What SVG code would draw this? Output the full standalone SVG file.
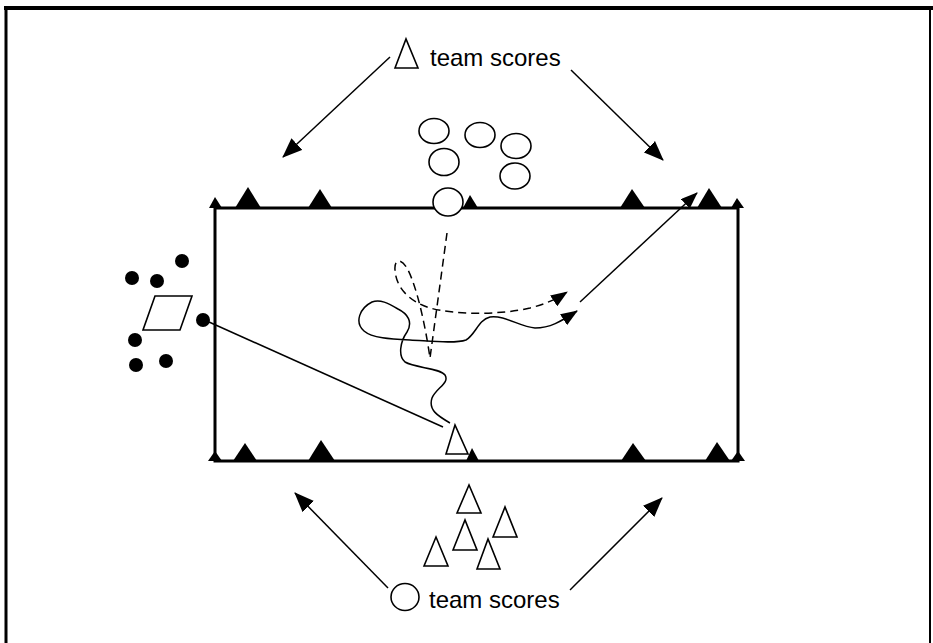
<svg xmlns="http://www.w3.org/2000/svg" width="933" height="643" viewBox="0 0 933 643">
<defs>
<style>
.frame{stroke:#000;fill:none}
.field{stroke:#000;stroke-width:3;fill:none}
.cone{fill:#000;stroke:none}
.open{fill:#fff;stroke:#000;stroke-width:1.6}
.dot{fill:#000}
.lbl{font-family:"Liberation Sans",Arial,sans-serif;font-size:24px;fill:#000}
.conn{stroke:#000;stroke-width:1.5;fill:none}
.dash{stroke-dasharray:8,5}
</style>
<marker id="ah" markerUnits="userSpaceOnUse" markerWidth="20" markerHeight="16" refX="19" refY="8" orient="auto">
<path d="M0,0 L20,8 L0,16 z" fill="#000"/>
</marker>
<marker id="ahs" markerUnits="userSpaceOnUse" markerWidth="17" markerHeight="13" refX="16" refY="6.5" orient="auto">
<path d="M0,0 L17,6.5 L0,13 z" fill="#000"/>
</marker>
</defs>
<rect width="933" height="643" fill="#fff"/>
<g id="frame">
<line class="frame" x1="4" y1="8" x2="933" y2="8" stroke-width="4"/>
<line class="frame" x1="6" y1="6" x2="6" y2="643" stroke-width="3"/>
<line class="frame" x1="930" y1="6" x2="930" y2="643" stroke-width="2"/>
</g>
<g id="field">
<rect class="field" x="215" y="208" width="523" height="253"/>
</g>
<g id="top-cones">
<polygon class="cone" points="209,208 215,197 222,208"/>
<polygon class="cone" points="235,208 248,187 261,208"/>
<polygon class="cone" points="308,208 320,189 332,208"/>
<polygon class="cone" points="463,208 470,195 478,208"/>
<polygon class="cone" points="620,208 632,189 645,208"/>
<polygon class="cone" points="697,208 709,188 722,208"/>
<polygon class="cone" points="731,208 737,198 744,208"/>
</g>
<g id="bottom-cones">
<polygon class="cone" points="208,461 215,451 222,461"/>
<polygon class="cone" points="233,461 245,443 257,461"/>
<polygon class="cone" points="308,461 321,440 335,461"/>
<polygon class="cone" points="466,461 472,448 479,461"/>
<polygon class="cone" points="621,461 633,443 646,461"/>
<polygon class="cone" points="705,461 717,442 730,461"/>
<polygon class="cone" points="731,461 738,451 745,461"/>
</g>
<g id="circle-team">
<ellipse class="open" cx="434" cy="131" rx="15" ry="12.5"/>
<ellipse class="open" cx="480" cy="135" rx="15" ry="12.5"/>
<ellipse class="open" cx="516" cy="146" rx="15" ry="12.5"/>
<ellipse class="open" cx="444" cy="162" rx="15" ry="13.5"/>
<ellipse class="open" cx="515" cy="176" rx="15" ry="13"/>
<ellipse class="open" cx="448" cy="202" rx="15" ry="14"/>
</g>
<g id="triangle-team">
<polygon class="open" points="457,513 469,485 481,513"/>
<polygon class="open" points="493,537 505,507 517,537"/>
<polygon class="open" points="453,550 465,520 477,550"/>
<polygon class="open" points="424,566 436,537 448,566"/>
<polygon class="open" points="477,569 488,539 500,569"/>
<polygon class="open" points="446,454 455,425 468,454"/>
</g>
<g id="dot-team">
<circle class="dot" cx="182" cy="261" r="7"/>
<circle class="dot" cx="132" cy="278" r="7"/>
<circle class="dot" cx="157" cy="281" r="7"/>
<circle class="dot" cx="203" cy="320" r="7"/>
<circle class="dot" cx="135" cy="340" r="7"/>
<circle class="dot" cx="136" cy="365" r="7"/>
<circle class="dot" cx="166" cy="361" r="7"/>
<polygon class="open" points="155,296 192,296 180,330 143,330"/>
</g>
<g id="label-top">
<polygon class="open" points="395,68 406,39 418,68"/>
<text class="lbl" x="430" y="66">team scores</text>
</g>
<g id="label-bottom">
<ellipse class="open" cx="405" cy="597" rx="14" ry="13.5"/>
<text class="lbl" x="429" y="608">team scores</text>
</g>
<g id="connectors">
<line class="conn" x1="390" y1="57" x2="283" y2="157" marker-end="url(#ah)"/>
<line class="conn" x1="571" y1="70" x2="663" y2="160" marker-end="url(#ah)"/>
<line class="conn" x1="388" y1="588" x2="295" y2="493" marker-end="url(#ah)"/>
<line class="conn" x1="570" y1="590" x2="662" y2="498" marker-end="url(#ah)"/>
<line class="conn" x1="209" y1="322" x2="443" y2="427"/>
<line class="conn" x1="580" y1="302" x2="697" y2="193" marker-end="url(#ahs)"/>
<path class="conn" d="M450,423 C438,416 428,410 432,398 C436,388 450,383 445,375 C440,368 415,368 405,362 C398,356 400,342 407,332 C413,322 408,314 398,309 C388,303 380,299 372,302 C360,308 354,322 364,331 C372,338 390,339 410,340 C430,341 455,344 466,340 C476,334 478,320 490,317 C505,315 520,327 535,328 C550,328 560,322 577,311" marker-end="url(#ahs)"/>
<path class="conn dash" d="M447,233 L430,358 C426,330 418,290 408,270 C402,258 394,258 395,270 C396,288 410,302 430,308 C455,315 500,315 530,308 C545,304 555,300 567,292" marker-end="url(#ahs)"/>
</g>
</svg>
